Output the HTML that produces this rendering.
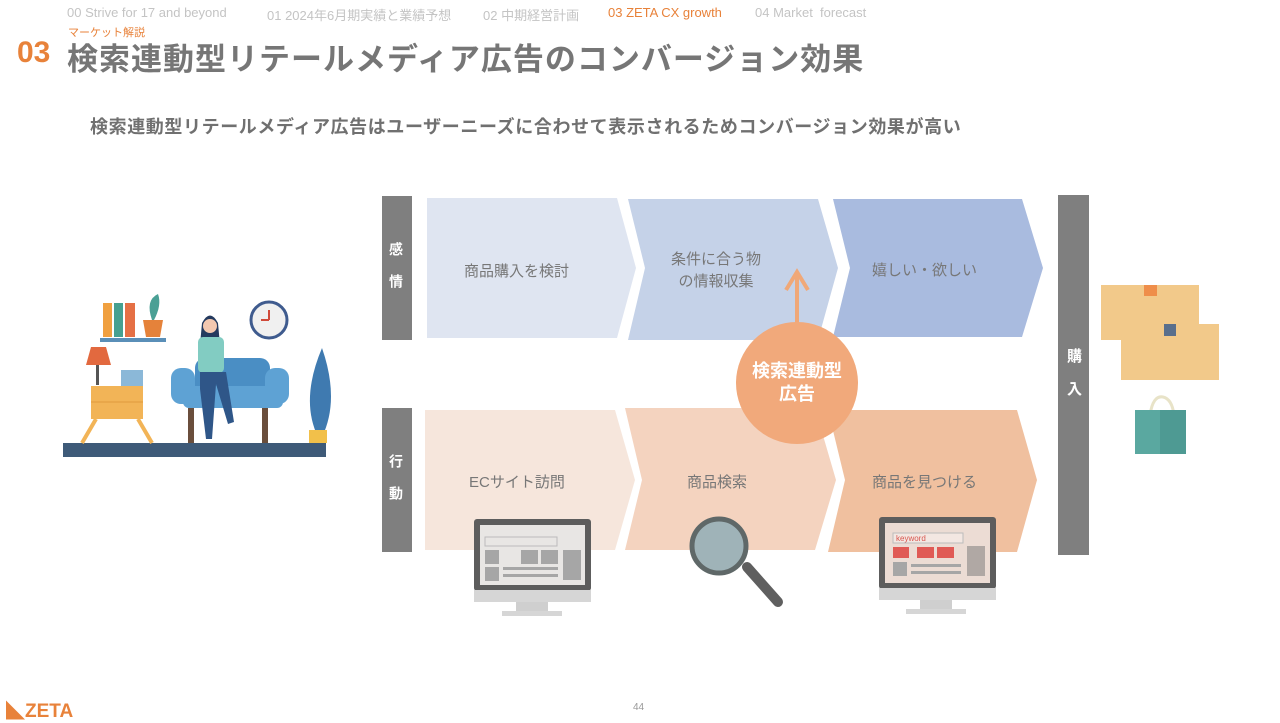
<!DOCTYPE html>
<html><head><meta charset="utf-8">
<style>
body{margin:0;width:1280px;height:720px;background:#fff;position:relative;overflow:hidden;font-family:"Liberation Sans","Noto Sans CJK JP",sans-serif}
.a{position:absolute;white-space:nowrap}
.nav{top:5px;font-size:13px;color:#c4c4c4}
</style></head><body>
<div class="a nav" style="left:67px">00 Strive for 17 and beyond</div>
<div class="a nav" style="left:267px">01 2024年6月期実績と業績予想</div>
<div class="a nav" style="left:483px">02 中期経営計画</div>
<div class="a nav" style="left:608px;color:#e8823a">03 ZETA CX growth</div>
<div class="a nav" style="left:755px">04 Market&nbsp; forecast</div>
<div class="a" style="left:68px;top:24px;font-size:11px;color:#e8823a">マーケット解説</div>
<div class="a" style="left:17px;top:36px;font-size:30px;font-weight:bold;color:#e8823a">03</div>
<div class="a" style="left:67px;top:34px;font-size:31px;letter-spacing:1px;font-weight:bold;color:#767676">検索連動型リテールメディア広告のコンバージョン効果</div>
<div class="a" style="left:90px;top:113px;font-size:18px;letter-spacing:0.6px;font-weight:bold;color:#707070">検索連動型リテールメディア広告はユーザーニーズに合わせて表示されるためコンバージョン効果が高い</div>

<svg class="a" style="left:0;top:0" width="1280" height="720" viewBox="0 0 1280 720">
<rect x="382" y="196" width="30" height="144" fill="#7f7f7f"/>
<rect x="382" y="408" width="30" height="144" fill="#7f7f7f"/>
<rect x="1058" y="195" width="31" height="360" fill="#7f7f7f"/>
<polygon points="427,198 617,198 636,268 617,338 427,338" fill="#dfe5f1"/>
<polygon points="628,199 818,199 838,268 818,340 628,340 645,268" fill="#c5d2e8"/>
<polygon points="833,199 1022,199 1043,268 1022,337 833,337 850,268" fill="#a9bbdf"/>
<polygon points="425,410 615,410 635,480 615,550 425,550" fill="#f6e6dc"/>
<polygon points="625,408 815,408 836,480 815,550 625,550 642,480" fill="#f4d3bf"/>
<polygon points="828,410 1017,410 1037,480 1017,552 828,552 845,480" fill="#f0c09f"/>
<line x1="797" y1="326" x2="797" y2="272" stroke="#f0a878" stroke-width="4"/>
<polyline points="786,290 797,272 808,290" fill="none" stroke="#f0a878" stroke-width="4"/>
<circle cx="797" cy="383" r="61" fill="#f1a97b"/>
<g>
<rect x="474" y="519" width="117" height="72" rx="3" fill="#5d5d5d"/>
<rect x="480" y="525" width="105" height="60" fill="#e8e6e4"/>
<rect x="474" y="590" width="117" height="12" fill="#d6d6d6"/>
<rect x="516" y="602" width="32" height="10" fill="#cfcfcf"/>
<rect x="502" y="611" width="60" height="5" fill="#d6d6d6"/>
<rect x="485" y="537" width="72" height="9" fill="none" stroke="#bbb"/>
<rect x="485" y="550" width="14" height="14" fill="#a6a6a6"/><rect x="521" y="550" width="17" height="14" fill="#a6a6a6"/><rect x="541" y="550" width="17" height="14" fill="#a6a6a6"/><rect x="563" y="550" width="18" height="30" fill="#a6a6a6"/>
<rect x="485" y="567" width="14" height="14" fill="#a6a6a6"/><rect x="503" y="567" width="55" height="3" fill="#a6a6a6"/><rect x="503" y="574" width="55" height="3" fill="#a6a6a6"/>
</g>
<g>
<rect x="879" y="517" width="117" height="72" rx="3" fill="#5d5d5d"/>
<rect x="885" y="523" width="105" height="60" fill="#ecdcd4"/>
<rect x="879" y="588" width="117" height="12" fill="#d6d6d6"/>
<rect x="920" y="600" width="32" height="10" fill="#cfcfcf"/>
<rect x="906" y="609" width="60" height="5" fill="#d6d6d6"/>
<rect x="893" y="533" width="70" height="10" fill="#f3e7e2" stroke="#bbb"/>
<text x="896" y="541" font-size="8" fill="#d8564f" font-family="Liberation Sans">keyword</text>
<rect x="893" y="547" width="16" height="11" fill="#e05a55"/><rect x="917" y="547" width="17" height="11" fill="#e05a55"/><rect x="937" y="547" width="17" height="11" fill="#e05a55"/><rect x="967" y="546" width="18" height="30" fill="#b0a8a4"/>
<rect x="893" y="562" width="14" height="14" fill="#a6a6a6"/><rect x="911" y="564" width="50" height="3" fill="#a6a6a6"/><rect x="911" y="571" width="50" height="3" fill="#a6a6a6"/>
</g>
<line x1="747" y1="567" x2="778" y2="602" stroke="#5f5f5f" stroke-width="10" stroke-linecap="round"/>
<circle cx="719" cy="546" r="27" fill="#9fb3b8" stroke="#5f6868" stroke-width="5"/>
<rect x="1101" y="285" width="98" height="55" fill="#f2c98a"/>
<rect x="1144" y="285" width="13" height="11" fill="#ef8e4a"/>
<rect x="1121" y="324" width="98" height="56" fill="#f2c98a"/>
<rect x="1164" y="324" width="12" height="12" fill="#5a6f8c"/>
<path d="M1150 415 Q1153 395 1163 397 Q1172 399 1174 415" fill="none" stroke="#e8e3c8" stroke-width="3"/>
<rect x="1135" y="410" width="51" height="44" fill="#5aa8a0"/>
<rect x="1160" y="410" width="26" height="44" fill="#4e9a93"/>
<rect x="63" y="443" width="263" height="14" fill="#3e5a78"/>
<rect x="100" y="338" width="66" height="4" fill="#5a8fb8"/>
<rect x="103" y="303" width="9" height="34" fill="#f0a040"/><rect x="114" y="303" width="9" height="34" fill="#46a090"/><rect x="125" y="303" width="10" height="34" fill="#e57045"/>
<path d="M143 320 h20 l-3 17 h-14z" fill="#e5823a"/>
<path d="M152 320 Q145 300 158 294 Q162 305 154 320z" fill="#4aa095"/>
<circle cx="269" cy="320" r="18" fill="#f0f0f0" stroke="#3f5b8e" stroke-width="3"/>
<path d="M269 320 v-10 M269 320 h-8" stroke="#d04a3a" stroke-width="2"/>
<path d="M86 365 l5 -18 h15 l5 18z" fill="#e2693f"/>
<rect x="96" y="365" width="3" height="20" fill="#555"/>
<rect x="91" y="386" width="52" height="33" fill="#f2b457"/>
<line x1="91" y1="402" x2="143" y2="402" stroke="#e09a3e"/>
<path d="M96 419 l-14 24 M138 419 l14 24" stroke="#f2b457" stroke-width="4"/>
<rect x="121" y="370" width="22" height="16" fill="#8bb8d8"/>
<rect x="195" y="358" width="75" height="40" rx="10" fill="#4a8ec4"/>
<rect x="171" y="368" width="24" height="36" rx="10" fill="#5ea2d4"/>
<rect x="265" y="368" width="24" height="36" rx="10" fill="#5ea2d4"/>
<rect x="183" y="386" width="100" height="22" rx="6" fill="#5ea2d4"/>
<rect x="188" y="408" width="6" height="35" fill="#6a4e3c"/><rect x="262" y="408" width="6" height="35" fill="#6a4e3c"/>
<path d="M202 323 Q210 308 218 323 l2 22 h-20z" fill="#243a5e"/>
<circle cx="210" cy="326" r="7" fill="#f3c8b0"/>
<rect x="198" y="337" width="26" height="36" rx="5" fill="#82ccc2"/>
<path d="M200 372 h26 l8 50 l-6 2 l-12-40 l-4 55 h-6 l-6-50z" fill="#2f5688"/>
<path d="M318 437 Q300 400 322 348 Q340 400 322 437z" fill="#3f7ab0"/>
<rect x="309" y="430" width="18" height="13" fill="#f2c04a"/>
</svg>

<div class="a" style="left:386px;top:242px;font-size:14px;color:#fff;font-weight:bold;writing-mode:vertical-rl;letter-spacing:18px">感情</div>
<div class="a" style="left:386px;top:454px;font-size:14px;color:#fff;font-weight:bold;writing-mode:vertical-rl;letter-spacing:18px">行動</div>
<div class="a" style="left:1063px;top:348px;font-size:15px;color:#fff;font-weight:bold;writing-mode:vertical-rl;letter-spacing:18px">購入</div>

<div class="a" style="left:464px;top:260px;font-size:15px;color:#777">商品購入を検討</div>
<div class="a" style="left:671px;top:249px;font-size:15px;color:#777;text-align:center;line-height:22px">条件に合う物<br>の情報収集</div>
<div class="a" style="left:872px;top:259px;font-size:15px;color:#777">嬉しい・欲しい</div>
<div class="a" style="left:469px;top:471px;font-size:15px;color:#777">ECサイト訪問</div>
<div class="a" style="left:687px;top:471px;font-size:15px;color:#777">商品検索</div>
<div class="a" style="left:872px;top:471px;font-size:15px;color:#777">商品を見つける</div>
<div class="a" style="left:737px;top:360px;width:120px;font-size:18px;color:#fff;font-weight:bold;text-align:center;line-height:23px">検索連動型<br>広告</div>

<div class="a" style="left:6px;top:696px;font-size:19px;font-weight:bold;color:#e8823a">◣ZETA</div>
<div class="a" style="left:633px;top:702px;font-size:10px;color:#999">44</div>
</body></html>
